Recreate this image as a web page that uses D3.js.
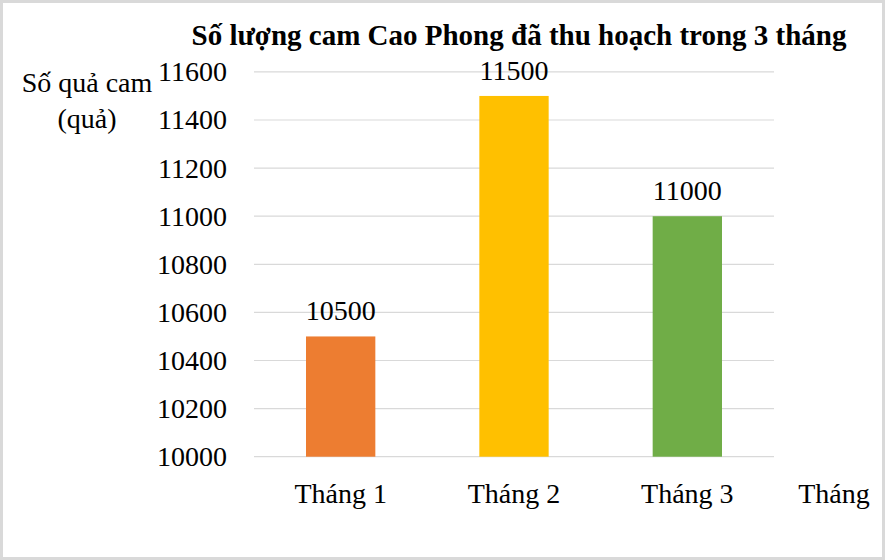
<!DOCTYPE html>
<html><head><meta charset="utf-8">
<script src="https://cdn.jsdelivr.net/npm/d3@7"></script>
<style>body{margin:0;background:#fff}svg{display:block}svg text{font-family:"Liberation Serif","Times New Roman",serif !important;fill:#000}</style>
</head><body>
<script>
const categories = ["Tháng 1", "Tháng 2", "Tháng 3"];
const values = [10500, 11500, 11000];
const colors = ["#ED7D31", "#FFC000", "#70AD47"];
const yTicks = [10000, 10200, 10400, 10600, 10800, 11000, 11200, 11400, 11600];
const title = "Số lượng cam Cao Phong đã thu hoạch trong 3 tháng";
const yTitle = ["Số quả cam", "(quả)"];
const xTitle = "Tháng";

const W = 885, H = 560;
const FS = "28px";
const svg = d3.select("body").append("svg").attr("width", W).attr("height", H);
svg.append("rect").attr("x", 1.5).attr("y", 1.5).attr("width", W - 3).attr("height", H - 3)
  .attr("fill", "#fff").attr("stroke", "#d9d9d9").attr("stroke-width", 3);

const pL = 254, pR = 774, pT = 71.9, pB = 456.7;
const x = d3.scaleBand().domain(categories).range([pL, pR]).paddingInner(0.6).paddingOuter(0.3);
const y = d3.scaleLinear().domain([10000, 11600]).range([pB, pT]);

// gridlines
svg.append("g").selectAll("line").data(yTicks).join("line")
  .attr("x1", pL).attr("x2", pR)
  .attr("y1", d => y(d)).attr("y2", d => y(d))
  .attr("stroke", "#d9d9d9").attr("stroke-width", 1.2);

// y axis labels
const yAxis = d3.axisLeft(y).tickValues(yTicks).tickSize(0).tickPadding(0).tickFormat(d3.format("d"));
const gy = svg.append("g").attr("transform", `translate(${227},0)`).call(yAxis);
gy.select(".domain").remove();
gy.attr("font-family", null).attr("font-size", null);
gy.selectAll("text").style("font-size", FS).attr("fill", "#000").attr("dy", "0.32em");

// bars
svg.append("g").selectAll("rect").data(values).join("rect")
  .attr("x", (d, i) => x(categories[i])).attr("width", x.bandwidth())
  .attr("y", d => y(d)).attr("height", d => y(10000) - y(d))
  .attr("fill", (d, i) => colors[i]);

// data labels
svg.append("g").selectAll("text").data(values).join("text")
  .attr("x", (d, i) => x(categories[i]) + x.bandwidth() / 2)
  .attr("y", d => y(d) - 16)
  .attr("text-anchor", "middle").style("font-size", FS)
  .text(d => d);

// x axis labels
const xAxis = d3.axisBottom(x).tickSize(0).tickPadding(0);
const gx = svg.append("g").attr("transform", `translate(0,${pB})`).call(xAxis);
gx.select(".domain").remove();
gx.attr("font-family", null).attr("font-size", null);
gx.selectAll("text").style("font-size", FS).attr("fill", "#000").attr("dy", null).attr("y", 46);

// titles
svg.append("text").attr("x", 519).attr("y", 45).attr("text-anchor", "middle")
  .style("font-size", "29px").attr("font-weight", "bold").text(title);
svg.append("text").attr("x", 87).attr("y", 92).attr("text-anchor", "middle").style("font-size", FS).text(yTitle[0]);
svg.append("text").attr("x", 87).attr("y", 128).attr("text-anchor", "middle").style("font-size", FS).text(yTitle[1]);
svg.append("text").attr("x", 834).attr("y", 503).attr("text-anchor", "middle").style("font-size", FS).text(xTitle);
</script>
</body></html>
